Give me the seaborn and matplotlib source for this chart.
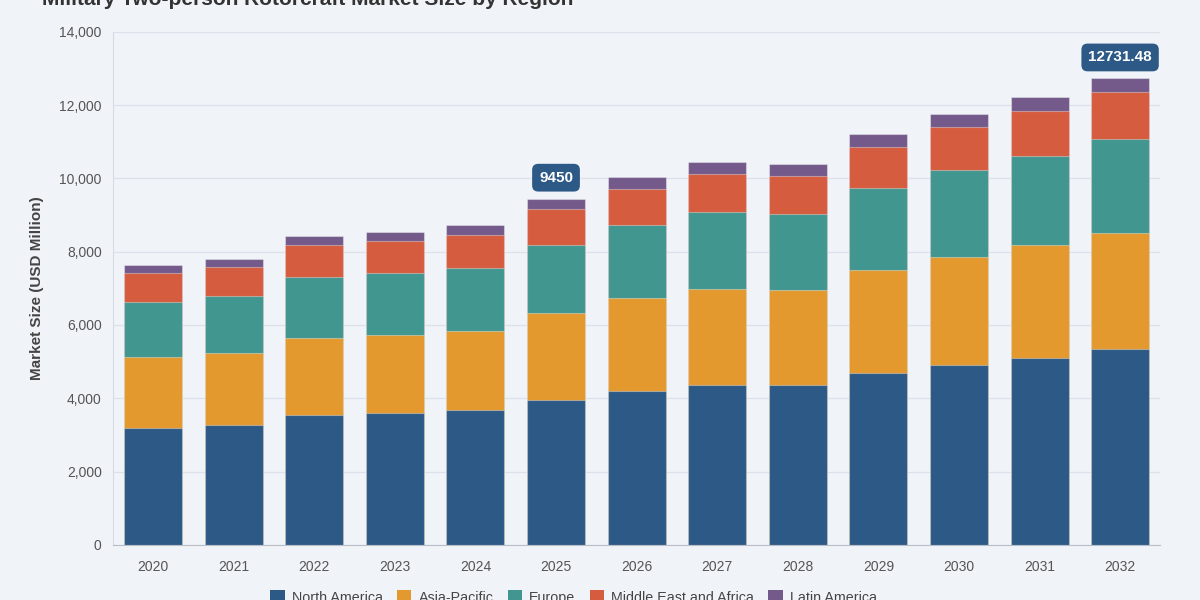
import numpy as np
import pandas as pd
import seaborn as sns
import matplotlib.pyplot as plt
from matplotlib.patches import Patch
from matplotlib.ticker import FuncFormatter

years = ["2020", "2021", "2022", "2023", "2024", "2025", "2026",
         "2027", "2028", "2029", "2030", "2031", "2032"]
regions = ["North America", "Asia-Pacific", "Europe", "Middle East and Africa", "Latin America"]
north_america = [3193, 3275, 3548, 3603, 3684, 3957, 4203, 4367, 4367, 4694, 4913, 5104, 5349]
asia_pacific = [1938, 1965, 2102, 2128, 2157, 2375, 2538, 2620, 2593, 2811, 2947, 3084, 3166]
europe = [1501, 1556, 1664, 1693, 1719, 1856, 1993, 2101, 2074, 2238, 2375, 2429, 2566]
middle_east_africa = [792, 791, 874, 873, 901, 982, 982, 1038, 1037, 1119, 1173, 1228, 1282]
latin_america = [218, 219, 245, 246, 273, 280, 328, 327, 327, 355, 355, 382, 368.48]
highlight_years = ["2025", "2032"]
colors = ["#2d5986", "#e4992f", "#41968f", "#d65c3f", "#735a8a"]

bg = "#f0f3f8"

df = pd.DataFrame({"year": years})
for name, vals in zip(regions, [north_america, asia_pacific, europe, middle_east_africa, latin_america]):
    df[name] = vals
cum = df[regions].cumsum(axis=1)
df["total"] = cum[regions[-1]]

sns.set_style("whitegrid")
plt.rcParams["font.family"] = ["Liberation Sans", "DejaVu Sans"]

fig = plt.figure(figsize=(12, 6), dpi=100, facecolor=bg)
ax = fig.add_axes([0.094, 0.092, 0.873, 0.855])
ax.set_facecolor(bg)

# stacked bars: draw cumulative totals back to front
for name, col in reversed(list(zip(regions, colors))):
    sns.barplot(x=df["year"], y=cum[name], color=col, width=0.72, errorbar=None,
                saturation=1, edgecolor=(1, 1, 1, 0.35), linewidth=0.8, ax=ax)

ax.set_ylim(0, 14000)
ax.set_xlim(-0.5, len(years) - 0.5)
ax.set_yticks(range(0, 14001, 2000))
ax.yaxis.set_major_formatter(FuncFormatter(lambda v, p: f"{int(v):,}"))
ax.grid(axis="y", color="#dde2ea", linewidth=0.9)
ax.grid(axis="x", visible=False)
ax.set_axisbelow(True)
for s in ["top", "right"]:
    ax.spines[s].set_visible(False)
ax.spines["left"].set_color("#d6dbe3")
ax.spines["bottom"].set_color("#b8bec8")
ax.tick_params(axis="both", length=0, labelsize=10, labelcolor="#555555")
ax.tick_params(axis="x", pad=11)
ax.tick_params(axis="y", pad=8)
ax.set_xlabel("")
ax.set_ylabel("Market Size (USD Million)", fontsize=11, fontweight="bold", color="#444444", labelpad=11)

for yr in highlight_years:
    i = years.index(yr)
    tot = df["total"][i]
    label = f"{tot:.2f}".rstrip("0").rstrip(".")
    ax.annotate(label, (i, tot), xytext=(0, 15), textcoords="offset points",
                ha="center", va="center", fontsize=11, fontweight="bold", color="white",
                bbox=dict(boxstyle="round,pad=0.45,rounding_size=0.4", fc="#2d5986", ec="none"))

fig.text(0.035, 0.992, "Military Two-person Rotorcraft Market Size by Region",
         fontsize=15, fontweight="bold", color="#333333", va="baseline")

handles = [Patch(facecolor=c, edgecolor="none") for c in colors]
fig.legend(handles, regions, loc="center", bbox_to_anchor=(0.478, 0.004), ncol=5,
           frameon=False, fontsize=10.3, handlelength=1.0, handleheight=1.0,
           handletextpad=0.5, columnspacing=1.0, labelcolor="#444444")

fig.savefig("out.png", dpi=100, facecolor=bg)
